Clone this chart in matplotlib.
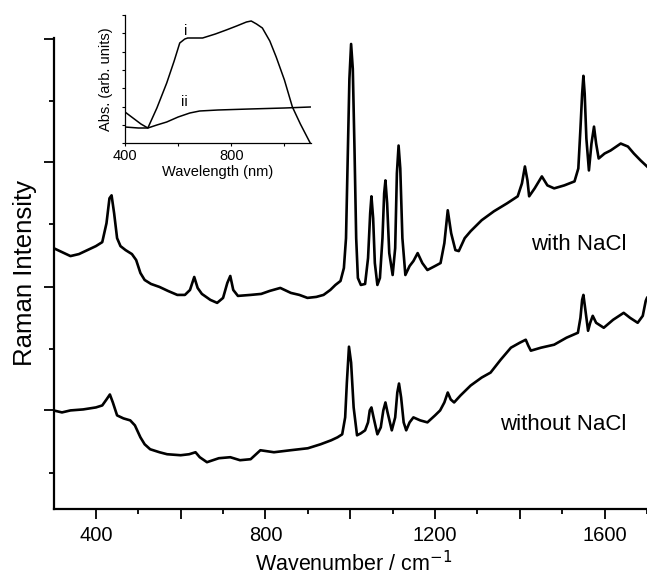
import matplotlib
matplotlib.use("Agg")
import matplotlib.pyplot as plt

plt.rcParams['font.family'] = ['Liberation Sans', 'DejaVu Sans']

# ---- main spectra (wavenumber / cm-1, intensity arb.) ----
wn_with = [300, 320, 340, 360, 380, 400, 415, 425, 432, 437, 443, 450, 458, 470, 485, 495, 505, 515, 530, 550,
           570, 592, 610, 622, 632, 640, 650, 670, 686, 700, 710, 717, 724, 735, 765, 790, 810, 835, 860, 880,
           899, 920, 937, 953, 965, 977, 985, 990, 994, 998, 1002, 1006, 1010, 1014, 1018, 1025, 1035, 1042,
           1047, 1050, 1054, 1058, 1064, 1070, 1076, 1080, 1083, 1087, 1092, 1100, 1106, 1110, 1114, 1118,
           1123, 1130, 1140, 1149, 1159, 1170, 1182, 1200, 1213, 1222, 1230, 1238, 1248, 1256, 1270, 1284,
           1310, 1339, 1370, 1395, 1405, 1412, 1418, 1422, 1435, 1452, 1465, 1481, 1505, 1529, 1538, 1543,
           1547, 1550, 1553, 1557, 1563, 1569, 1575, 1580, 1586, 1600, 1614, 1638, 1655, 1669, 1685, 1700]
int_with = [262, 258, 254, 256, 260, 264, 268, 287, 312, 315, 297, 272, 264, 260, 256, 250, 237, 230, 226, 223,
            219, 215, 215, 220, 233, 222, 216, 210, 207, 212, 227, 234, 220, 214, 215, 216, 219, 222, 217, 215,
            212, 213, 215, 220, 225, 229, 242, 272, 352, 432, 467, 442, 362, 272, 232, 225, 226, 252,
            297, 314, 292, 247, 225, 232, 272, 317, 330, 307, 257, 235, 262, 337, 365, 342,
            272, 235, 244, 249, 257, 247, 240, 244, 247, 267, 300, 277, 260, 259, 272, 279,
            290, 299, 307, 314, 327, 344, 330, 314, 322, 334, 325, 322, 325, 329, 342, 382,
            417, 435, 417, 372, 340, 367, 384, 367, 352, 357, 360, 367, 364, 357, 350, 344]

wn_without = [300, 320, 340, 370, 400, 415, 425, 433, 440, 450, 465, 481, 492, 505, 515, 528, 550, 568, 600,
              620, 635, 645, 662, 690, 717, 740, 765, 788, 820, 859, 900, 930, 955, 970, 981, 988, 992, 997,
              1002, 1008, 1016, 1025, 1035, 1042, 1046, 1050, 1055, 1064, 1072, 1078, 1083, 1088, 1098,
              1106, 1111, 1115, 1120, 1126, 1132, 1140, 1149, 1165, 1182, 1200, 1212, 1222, 1230, 1237,
              1245, 1260, 1284, 1310, 1331, 1355, 1379, 1400, 1414, 1420, 1426, 1450, 1481, 1510, 1537,
              1543, 1547, 1550, 1554, 1561, 1566, 1572, 1580, 1598, 1620, 1645, 1660, 1678, 1690, 1697, 1700]
int_without = [99, 97, 99, 100, 102, 104, 110, 115, 107, 94, 91, 89, 84, 72, 65, 60, 57, 55, 54,
               55, 57, 52, 47, 51, 52, 49, 50, 59, 57, 59, 61, 65, 69, 72, 75, 92, 127, 163,
               147, 102, 74, 76, 79, 87, 99, 102, 92, 75, 82, 99, 107, 97, 79,
               92, 117, 126, 112, 87, 79, 87, 92, 89, 87, 94, 99, 107, 117, 110,
               107, 114, 124, 132, 137, 150, 162, 167, 170, 164, 159, 162, 165, 172, 177,
               192, 210, 215, 202, 179, 187, 194, 187, 182, 190, 197, 192, 187, 194, 209, 212]

x_ticks_major = [400, 600, 800, 1000, 1200, 1400, 1600]
x_tick_labels = ['400', '', '800', '', '1200', '', '1600']
x_ticks_minor = [500, 700, 900, 1100, 1300, 1500, 1700]
y_ticks_major = [99, 223, 348, 472]
y_ticks_minor = [36, 161, 286, 410]

# ---- inset absorption spectra ----
wl_i = [400, 430, 460, 486, 520, 557, 585, 606, 625, 636, 692, 740, 781, 820, 857, 875, 895, 917, 945,
        969, 1000, 1030, 1060, 1097]
abs_i = [31, 25, 19, 15, 35, 60, 82, 100, 104, 105, 105, 109, 113, 117, 121, 122, 119, 115, 102,
         86, 63, 36, 19, 0]
wl_ii = [400, 450, 486, 520, 557, 600, 644, 681, 750, 868, 1000, 1097]
abs_ii = [16, 15, 15, 18, 21, 26, 30, 32, 33, 34, 35, 36]
inset_x_major = [400, 800]
inset_x_minor = [600, 1000]
inset_y_ticks = [0, 18, 36.5, 55, 73, 91.5, 110, 128]

W, H = 647, 578
fig = plt.figure(figsize=(W / 100, H / 100), dpi=100)

ax_bottom, ax_top, ax_left = 509, 38, 53.5
ax_h = ax_bottom - ax_top
ax_w = W - ax_left
ax = fig.add_axes([ax_left / W, 1 - ax_bottom / H, ax_w / W, ax_h / H])
ax.plot(wn_with, int_with, color='black', lw=1.9)
ax.plot(wn_without, int_without, color='black', lw=1.9)
ax.set_xlim(300, 1700)
ax.set_ylim(0, 473)
for s in ['top', 'right']:
    ax.spines[s].set_visible(False)
for s in ['left', 'bottom']:
    ax.spines[s].set_linewidth(1.6)
ax.set_xticks(x_ticks_major)
ax.set_xticklabels(x_tick_labels)
ax.set_xticks(x_ticks_minor, minor=True)
ax.set_yticks(y_ticks_major)
ax.set_yticklabels([])
ax.set_yticks(y_ticks_minor, minor=True)
ax.tick_params(which='major', direction='out', length=7, width=1.3, labelsize=14.5, pad=5)
ax.tick_params(which='minor', direction='out', length=3.5, width=1.3)
ax.set_xlabel('Wavenumber / cm$^{-1}$', fontsize=15.5)
ax.xaxis.set_label_coords(0.505, -(551 - ax_bottom) / ax_h)
ax.set_ylabel('Raman Intensity', fontsize=18.5)
ax.yaxis.set_label_coords(-(ax_left - 37) / ax_w, 0.5)
ax.text(1540, 266, 'with NaCl', fontsize=16, ha='center', va='center')
ax.text(1503, 85, 'without NaCl', fontsize=16, ha='center', va='center')

ins = fig.add_axes([125 / W, 1 - 143 / H, (311 - 125) / W, (143 - 15) / H])
ins.plot(wl_i, abs_i, color='black', lw=1.1)
ins.plot(wl_ii, abs_ii, color='black', lw=1.1)
ins.set_xlim(400, 1100)
ins.set_ylim(0, 128)
ins.patch.set_alpha(0)
for s in ['top', 'right']:
    ins.spines[s].set_visible(False)
for s in ['left', 'bottom']:
    ins.spines[s].set_linewidth(0.9)
ins.set_xticks(inset_x_major)
ins.set_xticks(inset_x_minor, minor=True)
ins.set_yticks(inset_y_ticks)
ins.set_yticklabels([])
ins.tick_params(which='both', direction='out', length=2.5, width=0.8, labelsize=10.5, pad=2)
ins.set_xlabel('Wavelength (nm)', fontsize=10.5, labelpad=1)
ins.set_ylabel('Abs. (arb. units)', fontsize=10.5, labelpad=4)
ins.text(629, 112, 'i', fontsize=10.5, ha='center', va='center')
ins.text(625, 41, 'ii', fontsize=10.5, ha='center', va='center')

fig.savefig('out.png', dpi=100)
